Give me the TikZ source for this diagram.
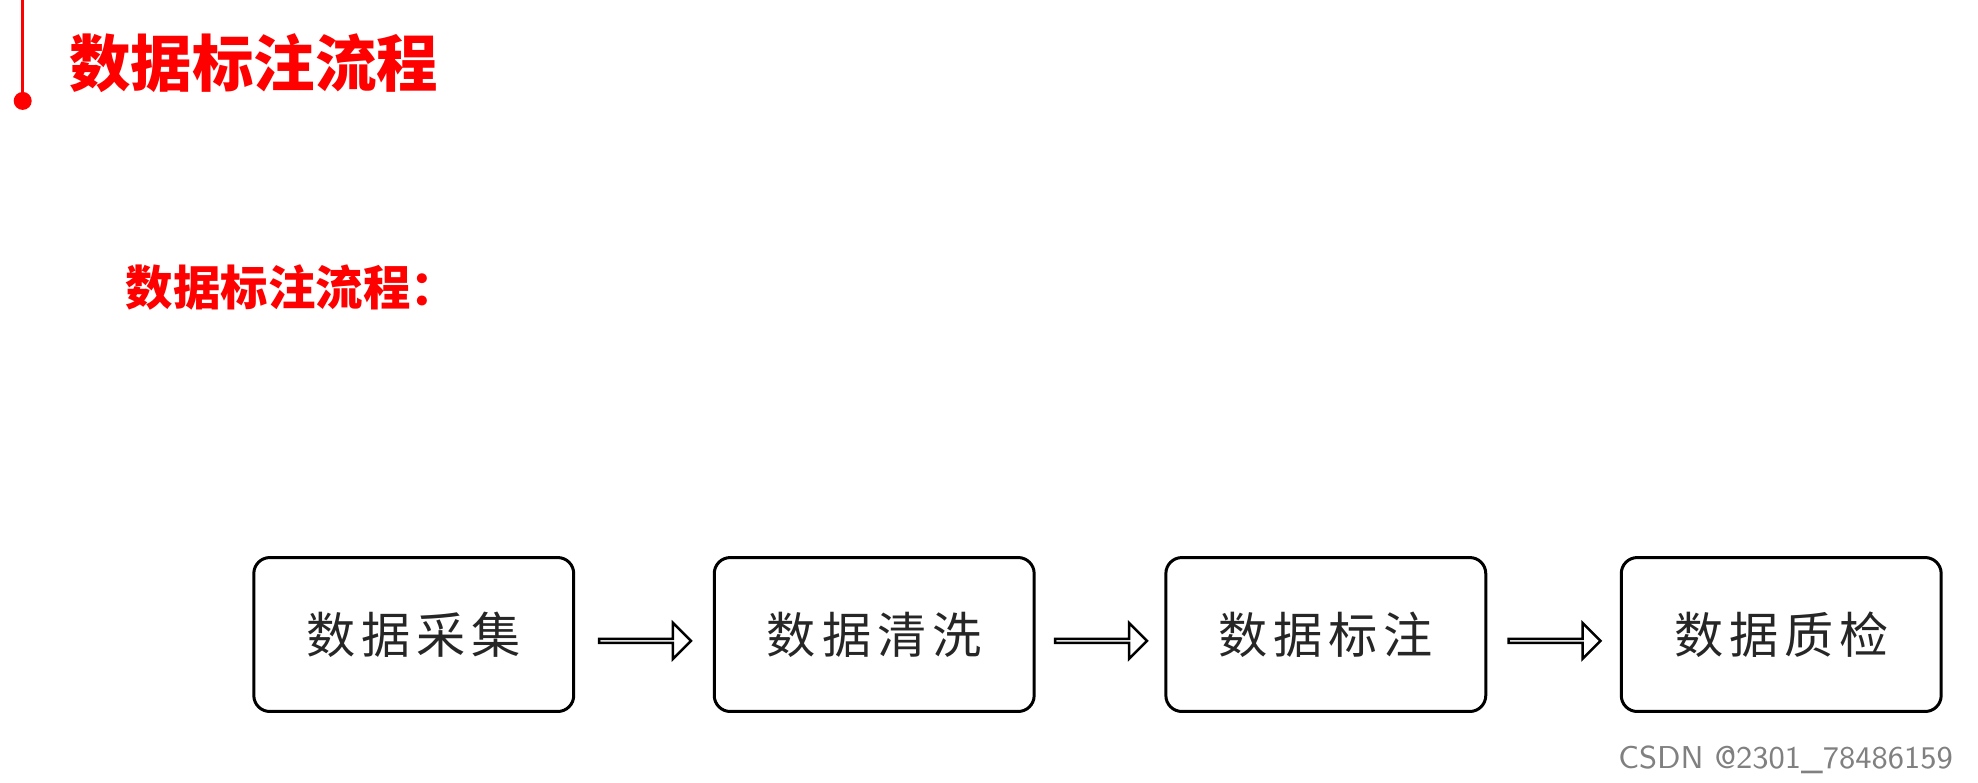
\documentclass[tikz,border=0pt]{standalone}
\usepackage{fontspec}
\newfontfamily\cjk{Noto Sans CJK SC}
\newfontfamily\cjkwide{Noto Sans CJK SC}[LetterSpace=12]
\usetikzlibrary{shapes.arrows,calc}

\tikzset{
  step box/.style={draw, line width=.3mm, rounded corners=1.6mm, minimum width=3.2cm, minimum height=1.54cm, font=\cjkwide\fontsize{14}{16}\selectfont, text=black!85},
  flow arrow/.style={single arrow, draw, line width=.25mm, minimum height=0.92cm, minimum width=0.36cm, single arrow head extend=0.1cm, inner sep=0pt},
}

\begin{document}
\begin{tikzpicture}[x=0.012615cm, y=-0.012615cm]
\useasboundingbox (0,0) rectangle (1568,620);
\draw[red, line width=.35mm] (18,0) -- (18,80);
\fill[red] (18,80) circle (0.09cm);
\node[anchor=west, text=red, font=\cjk\bfseries\fontsize{17.5}{20}\selectfont] (title) at (45,50) {数据标注流程};
\node[anchor=west, text=red, font=\cjk\bfseries\fontsize{13.5}{16}\selectfont] (subtitle) at (90,228) {数据标注流程：};
\node[step box] (collect) at (328,503) {数据采集};
\node[step box] (clean) at (693,503) {数据清洗};
\node[step box] (label) at (1051,503) {数据标注};
\node[step box] (check) at (1412,503) {数据质检};
\node[flow arrow] (a1) at ($(collect.east)!0.5!(clean.west)+(0,5)$) {};
\node[flow arrow] (a2) at ($(clean.east)!0.5!(label.west)+(0,5)$) {};
\node[flow arrow] (a3) at ($(label.east)!0.5!(check.west)+(0,5)$) {};
\node[anchor=east, text=gray, font=\sffamily\fontsize{9}{10}\selectfont] (mark) at (1558,602) {CSDN @2301\_78486159};
\end{tikzpicture}
\end{document}
